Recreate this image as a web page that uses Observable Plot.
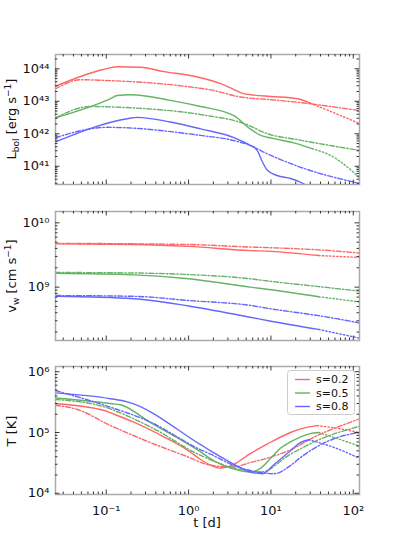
<!DOCTYPE html>
<html><head><meta charset="utf-8">
<script src="https://cdn.jsdelivr.net/npm/d3@7"></script>
<script src="https://cdn.jsdelivr.net/npm/@observablehq/plot@0.6"></script>
<style>
body{margin:0;background:#fff;}
#chart{position:relative;width:399px;height:552px;font-family:"DejaVu Sans",sans-serif;}
#chart svg{display:block;}
</style></head><body><div id="chart"></div>
<script>
// ---------- labels, colours, ticks ----------
const sLabels = ["s=0.2", "s=0.5", "s=0.8"];
const colors = ["#ff6666", "#66b266", "#6666ff"];
const xTicks = [0.1, 1, 10, 100];
const LTicks = [1e41, 1e42, 1e43, 1e44];
const vTicks = [1e9, 1e10];
const TTicks = [1e4, 1e5, 1e6];
const tDomain = [0.0242, 119];
const LDomain = [2.75e40, 2.75e44];
const vDomain = [1.48e8, 1.5e10];
const TDomain = [9.55e3, 1.22e6];

// ---------- bolometric luminosity [t (d), L (erg/s)] ----------
const L02_solid = [[0.0242,2.9e43],[0.0894,9.3e43],[0.136,1.15e44],[0.262,1.12e44],[0.5,8.2e43],[1.0,6.3e43],[1.4,5.3e43],[2.45,3.5e43],[3.55,2.3e43],[4.5,1.75e43],[6.2,1.55e43],[10,1.41e43],[21,1.2e43],[30,8.7e42]];
const L02_dot   = [[30,8.7e42],[60,4.3e42],[117,2.1e42]];
const L02_dash  = [[0.0242,2.4e43],[0.049,4.6e43],[0.093,4.4e43],[1.0,2.8e43],[1.85,2.24e43],[4.3,1.35e43],[10,1.12e43],[21,9.3e42],[117,5.2e42]];
const L05_solid = [[0.0242,3.1e42],[0.113,1.2e43],[0.136,1.5e43],[0.197,1.58e43],[0.6,1.07e43],[1.4,6.9e42],[3.55,3.6e42],[5.6,1.41e42],[7.5,8.9e41],[10.9,7.1e41],[21,4.9e41],[31.6,3.5e41]];
const L05_dot   = [[31.6,3.5e41],[58,1.9e41],[117,4.6e40]];
const L05_dash  = [[0.0242,3.1e42],[0.064,6.9e42],[0.197,6.3e42],[1.4,3.9e42],[4.9,2.0e42],[9.1,1.0e42],[21,6.6e41],[117,3.1e41]];
const L08_solid = [[0.0242,5.6e41],[0.18,2.9e42],[0.238,3.2e42],[0.6,2.3e42],[1.4,1.41e42],[3.55,7.6e41],[5.6,4.4e41],[6.8,3.1e41],[7.9,1.35e41],[9.1,7.4e40],[11.9,5.2e40],[17.3,4.2e40],[25,2.9e40],[30,2.2e40]];
const L08_dot   = [[30,2.2e40],[117,5e39]];
const L08_dash  = [[0.0242,7.6e41],[0.103,1.58e42],[1.4,8.9e41],[3.55,6.2e41],[5.6,4.4e41],[9.1,2.4e41],[23,9.3e40],[117,3.0e40]];

// ---------- wind velocity [t (d), v (cm/s)] ----------
const v02_solid = [[0.0242,4.7e9],[0.216,4.6e9],[1,4.3e9],[5.6,3.7e9],[10,3.6e9],[38,3.1e9]];
const v02_dot   = [[38,3.1e9],[117,2.9e9]];
const v02_dash  = [[0.0242,4.8e9],[1,4.6e9],[5.6,4.2e9],[10,4.1e9],[38,3.8e9],[117,3.4e9]];
const v05_solid = [[0.0242,1.64e9],[0.216,1.55e9],[1,1.35e9],[5.6,1.0e9],[10,9.1e8],[38,7.1e8]];
const v05_dot   = [[38,7.1e8],[117,5.9e8]];
const v05_dash  = [[0.0242,1.69e9],[0.216,1.66e9],[1,1.57e9],[5.6,1.35e9],[10,1.23e9],[38,1.02e9],[117,8.7e8]];
const v08_solid = [[0.0242,7.2e8],[0.216,6.6e8],[1,5.1e8],[5.6,3.4e8],[10,2.95e8],[38,2.2e8]];
const v08_dot   = [[38,2.2e8],[117,1.62e8]];
const v08_dash  = [[0.0242,7.4e8],[0.216,7.2e8],[1,6.2e8],[5.6,5.2e8],[10,4.6e8],[38,3.6e8],[117,2.8e8]];

// ---------- temperature [t (d), T (K)] ----------
const T02_solid = [[0.0242,2.97e5],[0.095,2.3e5],[0.113,2.1e5],[0.216,1.48e5],[0.5,8.5e4],[1,5.0e4],[1.4,3.6e4],[1.85,2.9e4],[2.4,2.6e4],[3.55,3.0e4],[5.6,4.5e4],[9.1,6.5e4],[17.3,1.0e5],[23,1.15e5],[36.5,1.3e5]];
const T02_dot   = [[36.5,1.3e5],[65,1.17e5],[117,1.0e5]];
const T02_dash  = [[0.0242,2.8e5],[0.0424,2.45e5],[0.113,1.3e5],[0.346,6.8e4],[0.88,4.2e4],[1.85,2.9e4],[3.5,2.7e4],[5.6,3.2e4],[9.1,3.8e4],[17.3,5.2e4],[36.5,8.9e4],[93,1.48e5],[117,1.66e5]];
const T05_solid = [[0.0242,3.7e5],[0.113,3.0e5],[0.149,2.86e5],[0.346,1.45e5],[1.4,4.8e4],[1.85,3.7e4],[3.55,2.5e4],[5.6,2.24e4],[7.5,2.6e4],[10,3.8e4],[13,5.5e4],[17.3,7.0e4],[23,8.5e4],[30,9.6e4],[38,1.0e5]];
const T05_dot   = [[38,1.0e5],[65,7.9e4],[117,6.0e4]];
const T05_dash  = [[0.0242,3.5e5],[0.085,2.75e5],[0.346,1.23e5],[1.4,4.2e4],[3.55,2.6e4],[7.5,2.24e4],[17.3,4.4e4],[36.5,7.4e4],[117,1.26e5]];
const T08_solid = [[0.0242,4.5e5],[0.113,3.6e5],[0.18,3.2e5],[1.4,6.3e4],[1.85,5.0e4],[3.55,3.0e4],[5.6,2.24e4],[7.9,2.1e4],[11,3.0e4],[17.3,5.0e4],[23,6.9e4],[28.8,7.6e4]];
const T08_dot   = [[28.8,7.6e4],[60,5.6e4],[117,3.8e4]];
const T08_dash  = [[0.0242,4.9e5],[0.085,2.95e5],[0.346,1.48e5],[1.4,5.2e4],[1.85,4.4e4],[3.55,2.86e4],[6.8,2.24e4],[10.9,2.1e4],[17.3,2.86e4],[23,3.9e4],[58,7.9e4],[117,1.0e5]];

// ---------- helpers ----------
const W = 399, ML = 55, MR = 40;
const FW = W - ML - MR;
const styles = {solid: null, dot: "1.4,2.2", dash: "5,2,1.4,2"};
const supMap = {"-":"⁻","0":"⁰","1":"¹","2":"²","3":"³","4":"⁴","5":"⁵","6":"⁶","7":"⁷","8":"⁸","9":"⁹"};
const sup = d => "10" + String(Math.round(Math.log10(d))).replace(/./g, c => supMap[c]);

function minorTicks(domain) {
  const out = [];
  const k0 = Math.floor(Math.log10(domain[0])), k1 = Math.ceil(Math.log10(domain[1]));
  for (let k = k0; k <= k1; k++) for (let m = 2; m <= 9; m++) {
    const v = m * Math.pow(10, k);
    if (v >= domain[0] && v <= domain[1]) out.push(v);
  }
  return out;
}
function frameTicks(yTicks, yDomain, fh) {
  const big = 4.5, small = 2.5, st = {stroke: "#222", strokeWidth: 0.9};
  const xMin = minorTicks(tDomain), yMin = minorTicks(yDomain);
  const xMaj = xTicks.filter(d => d >= tDomain[0] && d <= tDomain[1]);
  const yMaj = yTicks.filter(d => d >= yDomain[0] && d <= yDomain[1]);
  return [
    Plot.tickX(xMaj, {x: d => d, insetTop: fh - big, ...st}),
    Plot.tickX(xMaj, {x: d => d, insetBottom: fh - big, ...st}),
    Plot.tickX(xMin, {x: d => d, insetTop: fh - small, ...st}),
    Plot.tickX(xMin, {x: d => d, insetBottom: fh - small, ...st}),
    Plot.tickY(yMaj, {y: d => d, insetRight: FW - big, ...st}),
    Plot.tickY(yMaj, {y: d => d, insetLeft: FW - big, ...st}),
    Plot.tickY(yMin, {y: d => d, insetRight: FW - small, ...st}),
    Plot.tickY(yMin, {y: d => d, insetLeft: FW - small, ...st})
  ];
}
function curves(groups) {
  const marks = [];
  groups.forEach((g, i) => {
    for (const [style, pts] of Object.entries(g)) {
      marks.push(Plot.line(pts, {
        x: d => d[0], y: d => d[1], stroke: colors[i], strokeWidth: 1.4,
        strokeDasharray: styles[style], curve: "monotone-x", clip: true
      }));
    }
  });
  return marks;
}
function panel({height, mt, mb, yDomain, yTicks, groups, xAxis}) {
  const fh = height - mt - mb;
  const marks = [
    ...curves(groups),
    Plot.frame({stroke: "#aaa", strokeWidth: 1.5}),
    ...frameTicks(yTicks, yDomain, fh),
    Plot.axisY(yTicks, {tickFormat: sup, tickSize: 0, tickPadding: 6, fontSize: 13, label: null})
  ];
  if (xAxis) marks.push(Plot.axisX(xTicks, {tickFormat: sup, tickSize: 0, tickPadding: 11, fontSize: 13, label: null}));
  return Plot.plot({
    width: W, height, marginLeft: ML, marginRight: MR, marginTop: mt, marginBottom: mb,
    style: {fontFamily: "DejaVu Sans", fontSize: "13px", color: "#111", background: "#fff"},
    x: {type: "log", domain: tDomain, axis: null},
    y: {type: "log", domain: yDomain, axis: null},
    marks
  });
}
function addText(svg, x, y, parts, rotate) {
  const t = d3.select(svg).append("text")
    .attr("transform", `translate(${x},${y})` + (rotate ? " rotate(-90)" : ""))
    .attr("text-anchor", "middle").attr("font-family", "DejaVu Sans")
    .attr("font-size", 13).attr("fill", "#111");
  let shift = 0;
  parts.forEach(([txt, kind]) => {
    const target = kind === "sub" ? 3 : kind === "sup" ? -5 : 0;
    t.append("tspan").attr("dy", target - shift).attr("font-size", kind ? 9 : 13).text(txt);
    shift = target;
  });
}

const chart = document.getElementById("chart");

const p1 = panel({height: 200, mt: 54, mb: 16, yDomain: LDomain, yTicks: LTicks,
  groups: [{solid: L02_solid, dot: L02_dot, dash: L02_dash}, {solid: L05_solid, dot: L05_dot, dash: L05_dash}, {solid: L08_solid, dot: L08_dot, dash: L08_dash}]});
addText(p1, 16, 119, [["L"], ["bol", "sub"], [" [erg s"], ["−1", "sup"], ["]"]], true);
chart.appendChild(p1);

const p2 = panel({height: 150, mt: 11, mb: 10, yDomain: vDomain, yTicks: vTicks,
  groups: [{solid: v02_solid, dot: v02_dot, dash: v02_dash}, {solid: v05_solid, dot: v05_dot, dash: v05_dash}, {solid: v08_solid, dot: v08_dot, dash: v08_dash}]});
addText(p2, 16, 76, [["v"], ["w", "sub"], [" [cm s"], ["−1", "sup"], ["]"]], true);
chart.appendChild(p2);

const p3 = panel({height: 202, mt: 16, mb: 58, yDomain: TDomain, yTicks: TTicks, xAxis: true,
  groups: [{solid: T02_solid, dot: T02_dot, dash: T02_dash}, {solid: T05_solid, dot: T05_dot, dash: T05_dash}, {solid: T08_solid, dot: T08_dot, dash: T08_dash}]});
addText(p3, 16, 81, [["T [K]"]], true);
addText(p3, 207, 177, [["t [d]"]], false);
// legend
const lg = d3.select(p3).append("g").attr("text-anchor", "start");
lg.append("rect").attr("x", 287.5).attr("y", 20.5).attr("width", 67).attr("height", 44).attr("rx", 3)
  .attr("fill", "#fff").attr("fill-opacity", 0.85).attr("stroke", "#ccc");
sLabels.forEach((s, i) => {
  const y = 29.5 + i * 13.5;
  lg.append("line").attr("x1", 295).attr("x2", 310).attr("y1", y).attr("y2", y)
    .attr("stroke", colors[i]).attr("stroke-width", 1.4);
  lg.append("text").attr("x", 316).attr("y", y).attr("dy", "0.35em").attr("text-anchor", "start")
    .attr("font-family", "DejaVu Sans").attr("font-size", 11).attr("fill", "#111").text(s);
});
chart.appendChild(p3);
</script></body></html>
